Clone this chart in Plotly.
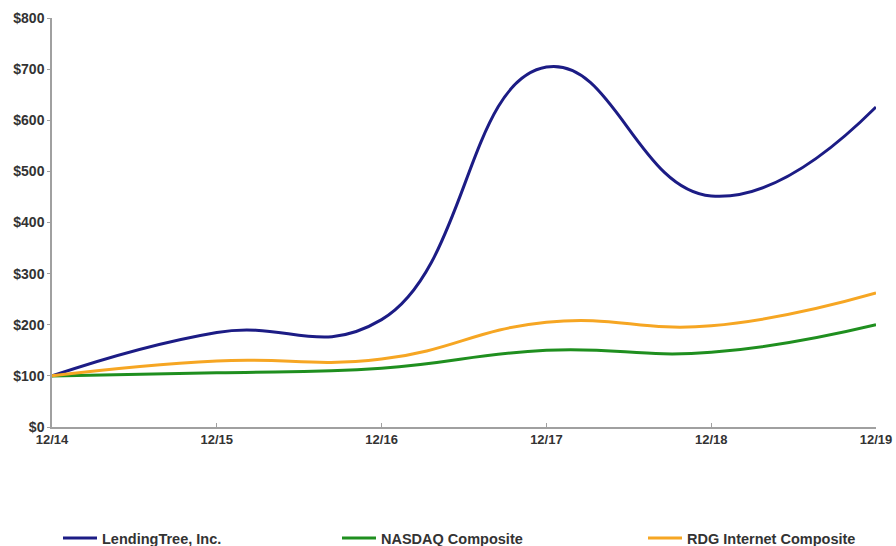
import plotly.graph_objects as go

categories = ["12/14", "12/15", "12/16", "12/17", "12/18", "12/19"]
lendingtree = [100, 185, 210, 704, 452, 626]
nasdaq = [100, 106, 115, 150, 146, 200]
rdg = [100, 129, 133, 205, 198, 262]
y_ticks = [0, 100, 200, 300, 400, 500, 600, 700, 800]

xs = list(range(len(categories)))
W, H = 896, 546

font = dict(family="Liberation Sans, Arial, sans-serif", size=13, color="#333333", weight="bold")
legend_font = dict(font, size=14.5)
ytick_font = dict(font, size=14)

fig = go.Figure()
series = [
    ("LendingTree, Inc.", lendingtree, "#1c1c85", "legend", 58),
    ("NASDAQ Composite", nasdaq, "#1f8f1f", "legend2", 337),
    ("RDG Internet Composite", rdg, "#f6a623", "legend3", 643),
]
legends = {}
for name, vals, col, lg, left in series:
    fig.add_trace(go.Scatter(
        x=xs, y=vals, name=name, mode="lines", legend=lg,
        line=dict(color=col, width=3, shape="spline", smoothing=1.3),
    ))
    legends[lg] = dict(
        orientation="h",
        xref="container", yref="container", x=left / W, xanchor="left",
        y=1 - 538 / H, yanchor="middle", itemwidth=34, font=legend_font,
        bgcolor="rgba(0,0,0,0)",
    )

fig.update_layout(
    width=W, height=H,
    margin=dict(l=52, r=20, t=18, b=119),
    paper_bgcolor="white", plot_bgcolor="white",
    font=font,
    showlegend=True,
    xaxis=dict(
        range=[0, 5], tickmode="array", tickvals=xs, ticktext=categories,
        showgrid=False, zeroline=False, showline=True, linecolor="#a0a0a0", linewidth=1.5,
        ticks="inside", ticklen=4, tickcolor="#a0a0a0", automargin=False,
    ),
    yaxis=dict(
        range=[0, 800], tickmode="array", tickvals=y_ticks,
        ticktext=["$" + str(v) for v in y_ticks], tickfont=ytick_font,
        showgrid=False, zeroline=False, showline=True, linecolor="#a0a0a0", linewidth=1.5,
        ticks="outside", ticklen=3, tickcolor="#a0a0a0", automargin=False,
    ),
    **legends,
)

fig.write_html(
    "out.html",
    config={"displayModeBar": False},
    post_script="document.body.style.margin='0';document.body.style.overflow='hidden';",
)
